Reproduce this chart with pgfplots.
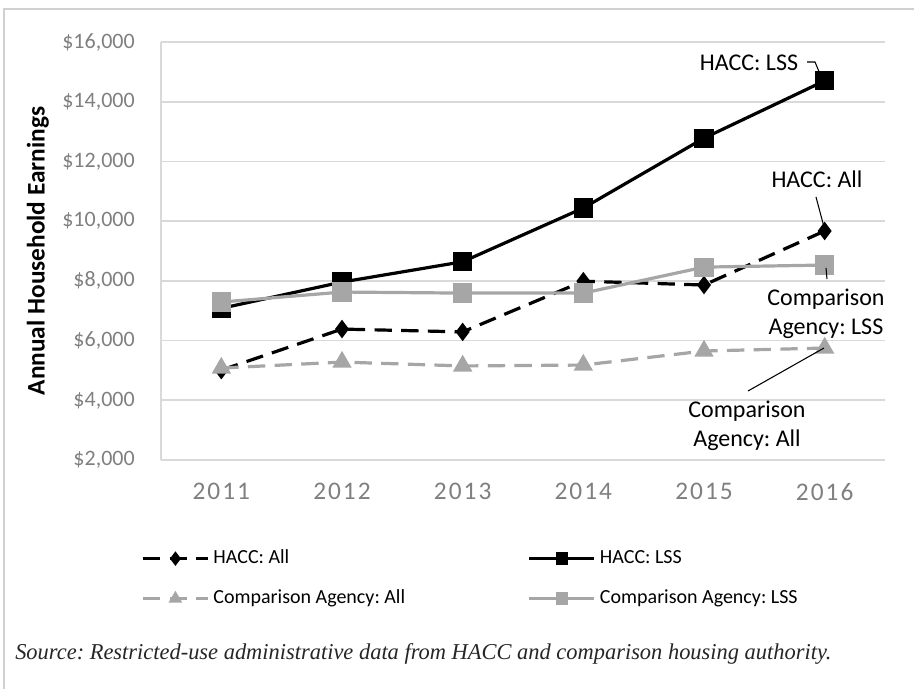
\documentclass[border=0pt]{standalone}
\usepackage{fontspec}
\setmainfont{Carlito}
\newfontfamily\srcfont{Liberation Serif}
\newfontfamily\yearfont[LetterSpace=8]{Carlito}
\usepackage{pgfplots}
\pgfplotsset{compat=1.18}
\definecolor{gridgray}{HTML}{D9D9D9}
\definecolor{tickgray}{HTML}{7F7F7F}
\definecolor{sergray}{HTML}{A6A6A6}
\definecolor{framegray}{HTML}{D0D0D0}
\frenchspacing

\begin{document}
\begin{tikzpicture}[x=0.75pt,y=0.75pt]
\useasboundingbox (0,0) rectangle (914,689);
% outer frame (left and top only)
\draw[framegray, line width=2.2pt] (4,0) -- (4,680) -- (914,680);

\begin{axis}[
  at={(120.75pt,171.75pt)}, anchor=south west,
  scale only axis, width=543pt, height=313.5pt,
  xmin=0.5, xmax=6.5, ymin=2000, ymax=16000,
  xtick={1,2,3,4,5,6},
  xticklabels={2011,2012,2013,2014,2015,2016},
  ytick={2000,4000,6000,8000,10000,12000,14000,16000},
  yticklabels={{\$2,000},{\$4,000},{\$6,000},{\$8,000},{\$10,000},{\$12,000},{\$14,000},{\$16,000}},
  scaled ticks=false,
  major tick length=0pt,
  axis lines*=left,
  axis line style={gridgray, line width=1.3pt, -},
  ymajorgrids, grid style={gridgray, line width=1.3pt},
  tick label style={inner sep=0pt},
  yticklabel style={font=\fontsize{16.5}{18}\selectfont, text=tickgray, anchor=east, xshift=-19.5pt},
  xticklabel style={font=\yearfont\fontsize{19}{22}\selectfont, text=tickgray, anchor=north, yshift=-17pt},
  ylabel={\textbf{Annual Household Earnings}},
  ylabel style={at={(axis description cs:-0.170,0.5)}, anchor=center, font=\fontsize{19}{22}\selectfont},
  legend columns=2,
  legend cell align=left,
  legend image code/.code={\draw[mark repeat=2, mark phase=2] plot coordinates {(0pt,0pt) (24.4pt,0pt) (48.75pt,0pt)};},
  legend image post style={mark size=3.5pt},
  legend style={at={(axis description cs:-0.0276,-0.213)}, anchor=north west,
    draw=none, fill=none, inner sep=0pt,
    font=\fontsize{15}{18}\selectfont,
    nodes={inner sep=0pt, text height=11pt, text depth=3pt},
    row sep=16pt, column sep=0pt,
    /tikz/every odd column/.append style={column sep=3pt},
    /tikz/every even column/.append style={column sep=92pt}},
]
\addplot[black, line width=2.4pt, dash pattern=on 13pt off 7pt, mark=diamond*, mark size=5pt, mark options={solid}]
  coordinates {(1,5010) (2,6385) (3,6290) (4,7990) (5,7860) (6,9670)};
\addlegendentry{HACC: All}
\addplot[black, line width=2.4pt, mark=square*, mark size=6pt]
  coordinates {(1,7080) (2,7960) (3,8640) (4,10440) (5,12780) (6,14700)};
\addlegendentry{HACC: LSS}
\addplot[sergray, line width=2.4pt, dash pattern=on 13pt off 7pt, mark=triangle*, mark size=6pt, mark options={solid}]
  coordinates {(1,5080) (2,5280) (3,5150) (4,5180) (5,5650) (6,5750)};
\addlegendentry{Comparison Agency: All}
\addplot[sergray, line width=2.4pt, mark=square*, mark size=6pt]
  coordinates {(1,7290) (2,7625) (3,7590) (4,7590) (5,8460) (6,8530)};
\addlegendentry{Comparison Agency: LSS}
\end{axis}

% data labels with leader lines
\begin{scope}[every node/.style={font=\fontsize{18}{21.75}\selectfont, inner sep=0pt, align=center}]
\node at (749,626) {HACC: LSS};
\draw[black, line width=0.8pt] (807,627) -- (815,627) -- (820,615);
\node at (817,510) {HACC: All};
\draw[black, line width=0.8pt] (816,492) -- (824,462);
\node at (826,375.5) {Comparison\\Agency: LSS};
\draw[black, line width=0.8pt] (826,421) -- (827,410);
\node at (747,263.5) {Comparison\\Agency: All};
\draw[black, line width=0.8pt] (748,298) -- (824,341);
\end{scope}

\node[anchor=base west, inner sep=0pt, font=\srcfont\itshape\fontsize{17}{20}\selectfont, text=black!85]
  at (15,29) {\scalebox{0.99}[1]{Source: Restricted-use administrative data from HACC and comparison housing authority.}};
\end{tikzpicture}
\end{document}
